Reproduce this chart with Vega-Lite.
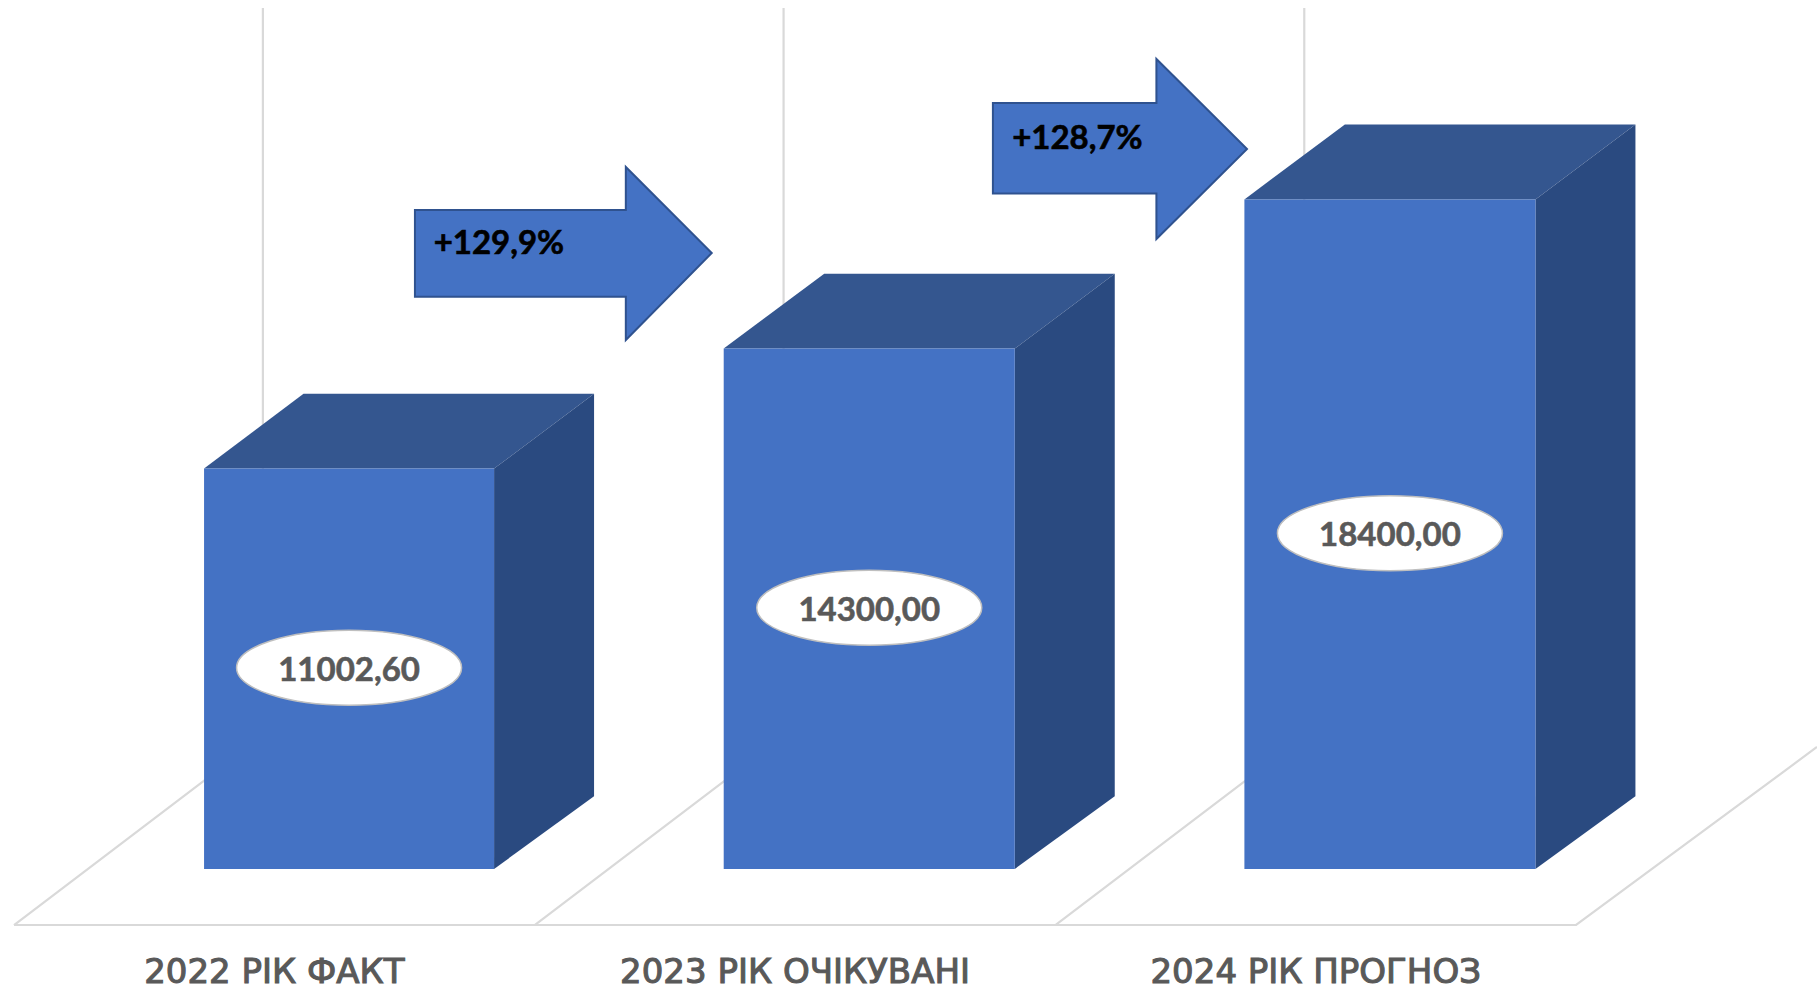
{"$schema":"https://vega.github.io/schema/vega-lite/v6.json","autosize":{"type":"none"},"width":1817,"height":988,"padding":0,"background":"white","config":{"view":{"stroke":null}},
"datasets":{
"bars":[{"category":"2022 РІК ФАКТ","text":"11002,60","start":0.365,"end":0.922,"centre":0.6435,"slot_centre":0.5,"value":11002.6,"half":5501.3,"label_level":-2870},{"category":"2023 РІК ОЧІКУВАНІ","text":"14300,00","start":1.363,"end":1.922,"centre":1.6425,"slot_centre":1.5,"value":14300,"half":7150,"label_level":-2870},{"category":"2024 РІК ПРОГНОЗ","text":"18400,00","start":2.363,"end":2.922,"centre":2.6425,"slot_centre":2.5,"value":18400,"half":9200,"label_level":-2870}],
"sides":[{"category":"2022","pos":0.922,"upper":11002.6,"lower":0},{"category":"2022","pos":1.114,"upper":13062.6,"lower":2000},{"category":"2023","pos":1.922,"upper":14300,"lower":0},{"category":"2023","pos":2.114,"upper":16360,"lower":2000},{"category":"2024","pos":2.922,"upper":18400,"lower":0},{"category":"2024","pos":3.114,"upper":20460,"lower":2000}],
"tops":[{"category":"2022","pos":0.365,"upper":11002.6,"lower":11002.6},{"category":"2022","pos":0.556,"upper":13062.6,"lower":11002.6},{"category":"2022","pos":0.922,"upper":13062.6,"lower":11002.6},{"category":"2022","pos":1.114,"upper":13062.6,"lower":13062.6},{"category":"2023","pos":1.363,"upper":14300,"lower":14300},{"category":"2023","pos":1.556,"upper":16360,"lower":14300},{"category":"2023","pos":1.922,"upper":16360,"lower":14300},{"category":"2023","pos":2.114,"upper":16360,"lower":16360},{"category":"2024","pos":2.363,"upper":18400,"lower":18400},{"category":"2024","pos":2.556,"upper":20460,"lower":18400},{"category":"2024","pos":2.922,"upper":20460,"lower":18400},{"category":"2024","pos":3.114,"upper":20460,"lower":20460}],
"frame":[{"path":"a","seq":1,"pos":0,"level":-1539},{"path":"a","seq":2,"pos":0.478,"level":3655},{"path":"a","seq":3,"pos":0.478,"level":23660},{"path":"b","seq":1,"pos":1,"level":-1539},{"path":"b","seq":2,"pos":1.478,"level":3655},{"path":"b","seq":3,"pos":1.478,"level":23660},{"path":"c","seq":1,"pos":2,"level":-1539},{"path":"c","seq":2,"pos":2.478,"level":3655},{"path":"c","seq":3,"pos":2.478,"level":23660},{"path":"d","seq":1,"pos":0,"level":-1539},{"path":"d","seq":2,"pos":3,"level":-1539},{"path":"d","seq":3,"pos":3.4627,"level":3353}],
"arrows":[{"arrow":"a","pos":0.770,"upper":18109,"lower":15727},{"arrow":"a","pos":1.175,"upper":18109,"lower":15727},{"arrow":"a","pos":1.175,"upper":19290,"lower":14537},{"arrow":"a","pos":1.340,"upper":16928,"lower":16928},{"arrow":"b","pos":1.880,"upper":21050,"lower":18563},{"arrow":"b","pos":2.194,"upper":21050,"lower":18563},{"arrow":"b","pos":2.194,"upper":22258,"lower":17313},{"arrow":"b","pos":2.368,"upper":19786,"lower":19786}],
"growth":[{"text":"+129,9%","pos":0.806,"level":17165},{"text":"+128,7%","pos":1.917,"level":20053}]
},
"layer":[
{"data":{"name":"frame"},"mark":{"type":"line","color":"#d9d9d9","strokeWidth":2.2},"encoding":{"x":{"field":"pos","type":"quantitative","scale":{"domain":[-0.0269,3.4627],"nice":false,"zero":false},"axis":null},"y":{"field":"level","type":"quantitative","scale":{"domain":[-3270,23880],"nice":false,"zero":false},"axis":null},"detail":{"field":"path"},"order":{"field":"seq"}}},
{"data":{"name":"tops"},"mark":{"type":"area","color":"#34568F","interpolate":"linear"},"encoding":{"x":{"field":"pos","type":"quantitative"},"y":{"field":"upper","type":"quantitative","stack":null},"y2":{"field":"lower"},"detail":{"field":"category"}}},
{"data":{"name":"sides"},"mark":{"type":"area","color":"#2A4A80","interpolate":"linear"},"encoding":{"x":{"field":"pos","type":"quantitative"},"y":{"field":"upper","type":"quantitative","stack":null},"y2":{"field":"lower"},"detail":{"field":"category"}}},
{"data":{"name":"bars"},"mark":{"type":"rect","color":"#4472C4"},"encoding":{"x":{"field":"start","type":"quantitative"},"x2":{"field":"end"},"y":{"field":"value","type":"quantitative"},"y2":{"datum":0}}},
{"data":{"name":"bars"},"mark":{"type":"point","filled":true,"opacity":1,"fill":"white","stroke":"#BFBFBF","strokeWidth":1.5,"size":50625,"yOffset":-1,"shape":"M-1,0 A1,0.333 0 1 1 1,0 A1,0.333 0 1 1 -1,0 Z"},"encoding":{"x":{"field":"centre","type":"quantitative"},"y":{"field":"half","type":"quantitative"}}},
{"data":{"name":"bars"},"mark":{"type":"text","font":"Lato","fontWeight":"bold","fontSize":33,"color":"#595959","stroke":"#595959","strokeWidth":0.6,"align":"center","baseline":"middle","dy":2},"encoding":{"x":{"field":"centre","type":"quantitative"},"y":{"field":"half","type":"quantitative"},"text":{"field":"text"}}},
{"data":{"name":"bars"},"mark":{"type":"text","font":"DejaVu Sans","fontSize":34,"color":"#595959","stroke":"#595959","strokeWidth":1.1,"align":"center","baseline":"middle"},"encoding":{"x":{"field":"slot_centre","type":"quantitative"},"y":{"field":"label_level","type":"quantitative"},"text":{"field":"category"}}},
{"data":{"name":"arrows"},"mark":{"type":"area","color":"#4472C4","stroke":"#2F528F","strokeWidth":2,"interpolate":"linear"},"encoding":{"x":{"field":"pos","type":"quantitative"},"y":{"field":"upper","type":"quantitative","stack":null},"y2":{"field":"lower"},"detail":{"field":"arrow"}}},
{"data":{"name":"growth"},"mark":{"type":"text","font":"Lato","fontWeight":"bold","fontSize":33,"color":"#000000","stroke":"#000000","strokeWidth":0.6,"align":"left","baseline":"middle"},"encoding":{"x":{"field":"pos","type":"quantitative"},"y":{"field":"level","type":"quantitative"},"text":{"field":"text"}}}
]}
